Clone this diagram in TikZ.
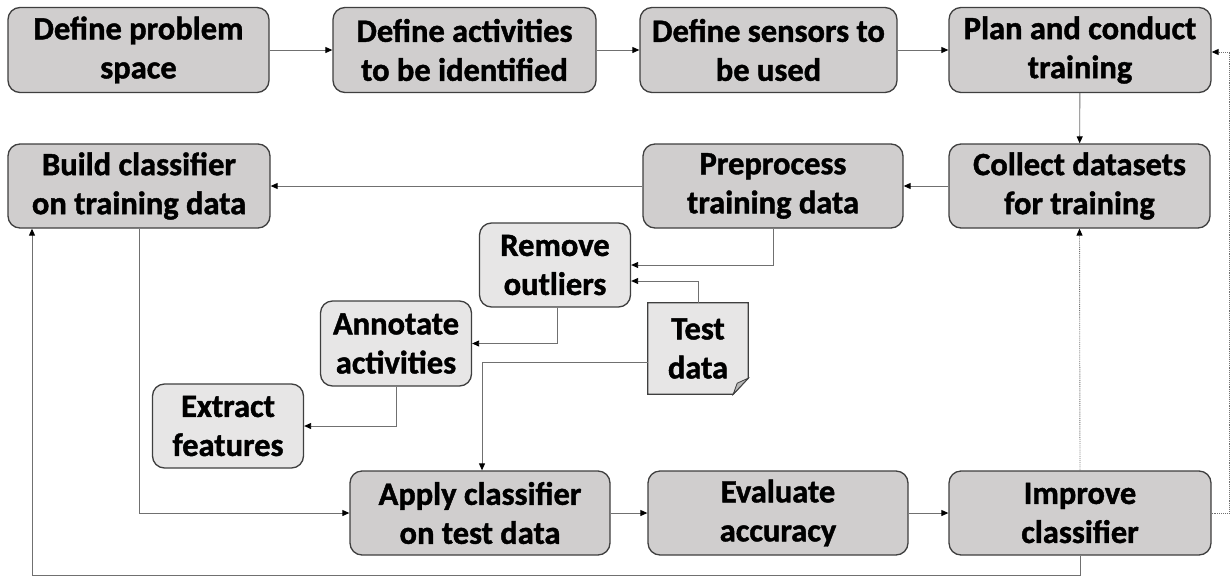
\documentclass[tikz,border=0pt]{standalone}
\usepackage{fontspec}
\setmainfont{Carlito}[BoldFeatures={FakeBold=1.3}]
\usetikzlibrary{arrows.meta}
\definecolor{boxdark}{HTML}{D0CECE}
\definecolor{boxlight}{HTML}{E7E6E6}
\definecolor{boxedge}{HTML}{3F3F3F}
\definecolor{linegray}{HTML}{707070}
\tikzset{
  stepbox/.style={draw=boxedge, line width=1.3pt, fill=boxdark, rounded corners=12pt,
    align=center, inner sep=0pt, font=\fontsize{32.5}{39}\selectfont\bfseries},
  subbox/.style={stepbox, fill=boxlight},
  arr/.style={draw=linegray, line width=0.9pt, -{Triangle[length=7pt,width=6pt,color=black]}},
  dotarr/.style={arr, densely dotted},
  plainline/.style={draw=linegray, line width=0.9pt}
}
\begin{document}
\begin{tikzpicture}[x=1pt,y={(0pt,-1pt)}]
\useasboundingbox (0,0) rectangle (1231,576);
% top row
\node[stepbox, minimum width=261pt, minimum height=85pt] (p1) at (138.5,50) {Define problem\\space};
\node[stepbox, minimum width=263pt, minimum height=85pt] (p2) at (464.5,50) {Define activities\\to be identified};
\node[stepbox, minimum width=257pt, minimum height=85pt] (p3) at (768.5,50) {Define sensors to\\be used};
\node[stepbox, minimum width=262pt, minimum height=85pt] (p4) at (1080,50) {Plan and conduct\\training};
% second row
\node[stepbox, minimum width=262pt, minimum height=84pt] (b1) at (139,186) {Build classifier\\on training data};
\node[stepbox, minimum width=260pt, minimum height=84pt] (pre) at (773,186) {Preprocess\\training data};
\node[stepbox, minimum width=261pt, minimum height=84pt] (col) at (1079.5,186) {Collect datasets\\for training};
% sub steps
\node[subbox, minimum width=151pt, minimum height=84pt] (rem) at (555,265) {Remove\\outliers};
\node[subbox, minimum width=151pt, minimum height=85pt] (ann) at (396,343.5) {Annotate\\activities};
\node[subbox, minimum width=151pt, minimum height=84pt] (ext) at (228,426) {Extract\\features};
% test data document
\node[minimum width=100pt, minimum height=91pt, inner sep=0pt] (test) at (698,348.5) {};
\draw[draw=boxedge, line width=1.3pt, fill=boxlight]
  (test.north west) -- (test.north east) -- ([yshift=16pt]test.south east)
  -- ([xshift=-15pt]test.south east) -- (test.south west) -- cycle;
\draw[draw=boxedge, line width=0.8pt, fill=gray!55]
  ([yshift=16pt]test.south east) -- ([xshift=-11pt,yshift=11pt]test.south east)
  -- ([xshift=-15pt]test.south east) -- cycle;
\node[align=center, font=\fontsize{32.5}{39}\selectfont\bfseries] at (test.center) {Test\\data};
% bottom row
\node[stepbox, minimum width=260pt, minimum height=84pt] (app) at (480,513) {Apply classifier\\on test data};
\node[stepbox, minimum width=260pt, minimum height=84pt] (eva) at (778,513) {Evaluate\\accuracy};
\node[stepbox, minimum width=262pt, minimum height=84pt] (imp) at (1080,513) {Improve\\classifier};
% connectors
\draw[arr] (p1) -- (p2);
\draw[arr] (p2) -- (p3);
\draw[arr] (p3) -- (p4);
\draw[arr] (p4) -- (col);
\draw[arr] (col) -- (pre);
\draw[arr] (pre) -- (b1);
\draw[arr] (pre.south) |- (rem.east);
\draw[arr] (test.north) |- ([yshift=-16pt]rem.east);
\draw[arr] ([xshift=2pt]rem.south) |- (ann.east);
\draw[arr] ([yshift=-13.5pt]test.west) -| ([xshift=2pt]app.north);
\draw[arr] (ann.south) |- (ext.east);
\draw[arr] (b1.south) |- (app.west);
\draw[arr] (app) -- (eva);
\draw[arr] (eva) -- (imp);
\draw[dotarr] (imp.north) -- (col.south);
\coordinate (rc) at (1229.5,513);
\draw[dotarr] (imp.east) -- (rc) |- ([yshift=-2pt]p4.east);
\coordinate (bl) at (32,575);
\draw[arr] (imp.south) |- (bl) -- (bl |- b1.south);
\end{tikzpicture}
\end{document}
